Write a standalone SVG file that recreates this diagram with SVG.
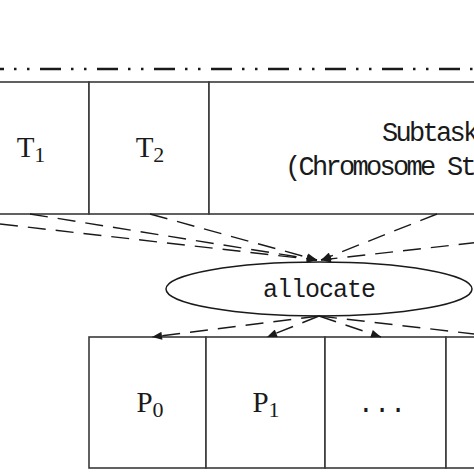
<svg xmlns="http://www.w3.org/2000/svg" width="474" height="474" viewBox="0 0 474 474">
<defs>
<marker id="ah" viewBox="0 0 10 8" refX="10" refY="4" markerWidth="11" markerHeight="8" markerUnits="userSpaceOnUse" orient="auto">
<path d="M0,0 L10,4 L0,8 z" fill="#1a1a1a"/>
</marker>
<style>
.box{fill:#fff;stroke:#3a3a3a;stroke-width:1.6}
.conn{fill:none;stroke:#1a1a1a;stroke-width:1.4;stroke-dasharray:18 10;marker-end:url(#ah)}
.lbl{font-family:"Liberation Serif",serif;font-size:29px;fill:#1a1a1a}
.mono{font-family:"Liberation Mono",monospace;fill:#1a1a1a}
</style>
</defs>
<rect width="474" height="474" fill="#fff"/>
<line x1="-17" y1="69" x2="480" y2="69" stroke="#1a1a1a" stroke-width="2.6" stroke-dasharray="21 10 2.5 10.5 2.5 10.5"/>
<g id="task-T1">
<rect class="box" x="-27" y="82" width="116" height="132"/>
<text class="lbl" x="31" y="157" text-anchor="middle">T<tspan font-size="22" dy="5">1</tspan></text>
</g>
<g id="task-T2">
<rect class="box" x="89" y="82" width="120" height="132"/>
<text class="lbl" x="150" y="157" text-anchor="middle">T<tspan font-size="22" dy="5">2</tspan></text>
</g>
<g id="subtasks">
<rect class="box" x="209" y="82" width="300" height="132"/>
<text class="mono" x="382" y="141" font-size="27" letter-spacing="-2.7">Subtask</text>
<text class="mono" x="285" y="175" font-size="27" letter-spacing="-2.7">(Chromosome St</text>
</g>
<g id="allocate">
<ellipse cx="319" cy="289" rx="153" ry="27" fill="#fff" stroke="#1a1a1a" stroke-width="1.5"/>
<text class="mono" x="319" y="297" font-size="25" letter-spacing="-1" text-anchor="middle">allocate</text>
</g>
<g id="proc-P0">
<rect class="box" x="89" y="337" width="117" height="131"/>
<text class="lbl" x="150" y="412" text-anchor="middle">P<tspan font-size="22" dy="5">0</tspan></text>
</g>
<g id="proc-P1">
<rect class="box" x="206" y="337" width="119" height="131"/>
<text class="lbl" x="266" y="412" text-anchor="middle">P<tspan font-size="22" dy="5">1</tspan></text>
</g>
<g id="proc-dots">
<rect class="box" x="325" y="337" width="121" height="131"/>
<text class="mono" x="382" y="412" font-size="27" text-anchor="middle">...</text>
</g>
<g id="proc-next">
<rect class="box" x="446" y="337" width="120" height="131"/>
</g>
<g id="connectors">
<path class="conn" d="M0,224 L317,260"/>
<path class="conn" d="M30,214 L317,260"/>
<path class="conn" d="M150,214 L317,260"/>
<path class="conn" d="M437,214 L321,260"/>
<path class="conn" d="M560,233 L321,260"/>
<path class="conn" d="M319,316 L152,337"/>
<path class="conn" d="M319,316 L267,337"/>
<path class="conn" d="M319,316 L381,337"/>
<path class="conn" d="M319,316 L500,337"/>
</g>
</svg>
